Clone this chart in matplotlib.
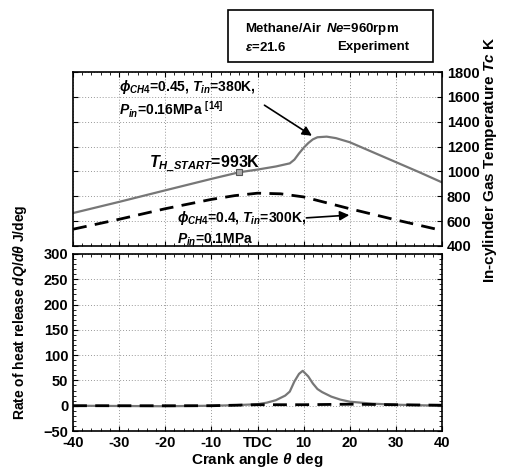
import matplotlib.pyplot as plt
from matplotlib.patches import Rectangle
from matplotlib.ticker import MultipleLocator

plt.rcParams['font.family'] = ['Liberation Sans', 'DejaVu Sans']
plt.rcParams['font.weight'] = 'bold'
plt.rcParams['axes.labelweight'] = 'bold'
plt.rcParams['mathtext.fontset'] = 'custom'
plt.rcParams['mathtext.rm'] = 'Liberation Sans:bold'
plt.rcParams['mathtext.it'] = 'Liberation Sans:italic:bold'
plt.rcParams['mathtext.bf'] = 'Liberation Sans:bold'

# in-cylinder temperature, phi=0.45 Tin=380K Pin=0.16MPa (solid)
theta_t1 = [-40, -30, -20, -10, -4, 0, 4, 7, 8, 9, 10, 11, 12, 13, 15, 17, 20, 25, 30, 35, 40]
temp_1 = [665, 755, 848, 940, 993, 1015, 1040, 1065, 1095, 1145, 1190, 1228, 1258, 1275, 1280, 1268, 1235, 1155, 1075, 995, 912]

# in-cylinder temperature, phi=0.4 Tin=300K Pin=0.1MPa (dashed)
theta_t2 = [-40, -30, -20, -10, -5, 0, 5, 10, 20, 30, 40]
temp_2 = [535, 615, 700, 775, 805, 825, 820, 795, 700, 610, 525]

# rate of heat release
theta_q1 = [-40, -20, -10, -5, 0, 2, 4, 6, 7, 8, 9, 9.8, 11, 12, 13, 14, 16, 18, 20, 25, 30, 40]
dq_1 = [0, -1, 0, 1, 3, 6, 11, 20, 28, 48, 63, 69, 58, 44, 33, 27, 18, 12, 8, 4, 2, 0]
theta_q2 = [-40, -20, -10, 0, 10, 20, 30, 40]
dq_2 = [0, 0, 0, 2, 2, 3, 2, 1]

x_ticks = [-40, -30, -20, -10, 0, 10, 20, 30, 40]
x_labels = ['-40', '-30', '-20', '-10', 'TDC', '10', '20', '30', '40']

fig = plt.figure(figsize=(5.06, 4.76), dpi=100)
ax_t = fig.add_axes([0.1443, 0.4832, 0.7292, 0.3655])
ax_q = fig.add_axes([0.1443, 0.0945, 0.7292, 0.3719])

fs = 10.5
grid_kw = dict(color='#999999', linestyle=(0, (1, 2)), linewidth=0.7)

# temperature
ax_t.plot(theta_t1, temp_1, color='#777777', lw=1.6)
ax_t.plot(theta_t2, temp_2, color='black', lw=2, dashes=(5, 3))
ax_t.plot([-4], [993], marker='s', ms=5, color='#aaaaaa', mec='#555555', mew=0.8)
ax_t.set_xlim(-40, 40)
ax_t.set_ylim(400, 1800)
ax_t.set_xticks(x_ticks)
ax_t.set_xticklabels([])
ax_t.xaxis.set_minor_locator(MultipleLocator(2))
ax_t.set_yticks(range(400, 1801, 200))
ax_t.yaxis.tick_right()
ax_t.tick_params(which='both', direction='in', top=True, left=True, right=True, labelsize=fs)
ax_t.tick_params(which='minor', length=2)
ax_t.grid(True, **grid_kw)

ax_t.text(-30, 1645, r'$\it{\phi_{CH4}}$=0.45, $\it{T_{in}}$=380K,', fontsize=10, fontweight='bold')
ax_t.text(-30, 1455, r'$\it{P_{in}}$=0.16MPa $^{[14]}$', fontsize=10, fontweight='bold')
ax_t.annotate('', xy=(12.3, 1275), xytext=(1.0, 1545),
              arrowprops=dict(arrowstyle='-|>', color='black', lw=1.2, mutation_scale=14))
ax_t.text(-23.5, 1030, r'$\it{T_{H\_START}}$=993K', fontsize=11.5, fontweight='bold')
ax_t.text(-17.5, 595, r'$\it{\phi_{CH4}}$=0.4, $\it{T_{in}}$=300K,', fontsize=10, fontweight='bold')
ax_t.annotate('', xy=(20.5, 650), xytext=(10.0, 625),
              arrowprops=dict(arrowstyle='-|>', color='black', lw=1.2, mutation_scale=14))
ax_t.text(-17.5, 420, r'$\it{P_{in}}$=0.1MPa', fontsize=10, fontweight='bold')

# heat release
ax_q.plot(theta_q1, dq_1, color='#777777', lw=1.6)
ax_q.plot(theta_q2, dq_2, color='black', lw=2, dashes=(5, 3))
ax_q.set_xlim(-40, 40)
ax_q.set_ylim(-50, 300)
ax_q.set_xticks(x_ticks)
ax_q.set_xticklabels(x_labels)
ax_q.xaxis.set_minor_locator(MultipleLocator(2))
ax_q.set_yticks(range(-50, 301, 50))
ax_q.yaxis.set_minor_locator(MultipleLocator(10))
ax_q.tick_params(which='both', direction='in', top=True, right=True, labelsize=fs)
ax_q.tick_params(which='minor', length=2)
ax_q.grid(True, **grid_kw)
ax_q.set_xlabel(r'Crank angle $\it{\theta}$ deg', fontsize=11, fontweight='bold', labelpad=1)

for ax in (ax_t, ax_q):
    for s in ax.spines.values():
        s.set_linewidth(1.2)

fig.text(0.04, 0.345, r'Rate of heat release $\it{dQ/d\theta}$ J/deg', rotation=90,
         ha='center', va='center', fontsize=10, fontweight='bold')
fig.text(0.968, 0.664, r'In-cylinder Gas Temperature $\it{Tc}$ K', rotation=90,
         ha='center', va='center', fontsize=11, fontweight='bold')

# info box
fig.patches.append(Rectangle((0.4506, 0.8697), 0.4051, 0.1093, transform=fig.transFigure,
                             fill=False, edgecolor='black', lw=1.2))
fig.text(0.484, 0.939, 'Methane/Air', fontsize=9.5, fontweight='bold', va='center')
fig.text(0.645, 0.939, r'$\it{Ne}$=960rpm', fontsize=9.5, fontweight='bold', va='center')
fig.text(0.484, 0.901, r'$\it{\varepsilon}$=21.6', fontsize=9.5, fontweight='bold', va='center')
fig.text(0.666, 0.901, 'Experiment', fontsize=9.5, fontweight='bold', va='center')

fig.savefig('out.png', dpi=100)
